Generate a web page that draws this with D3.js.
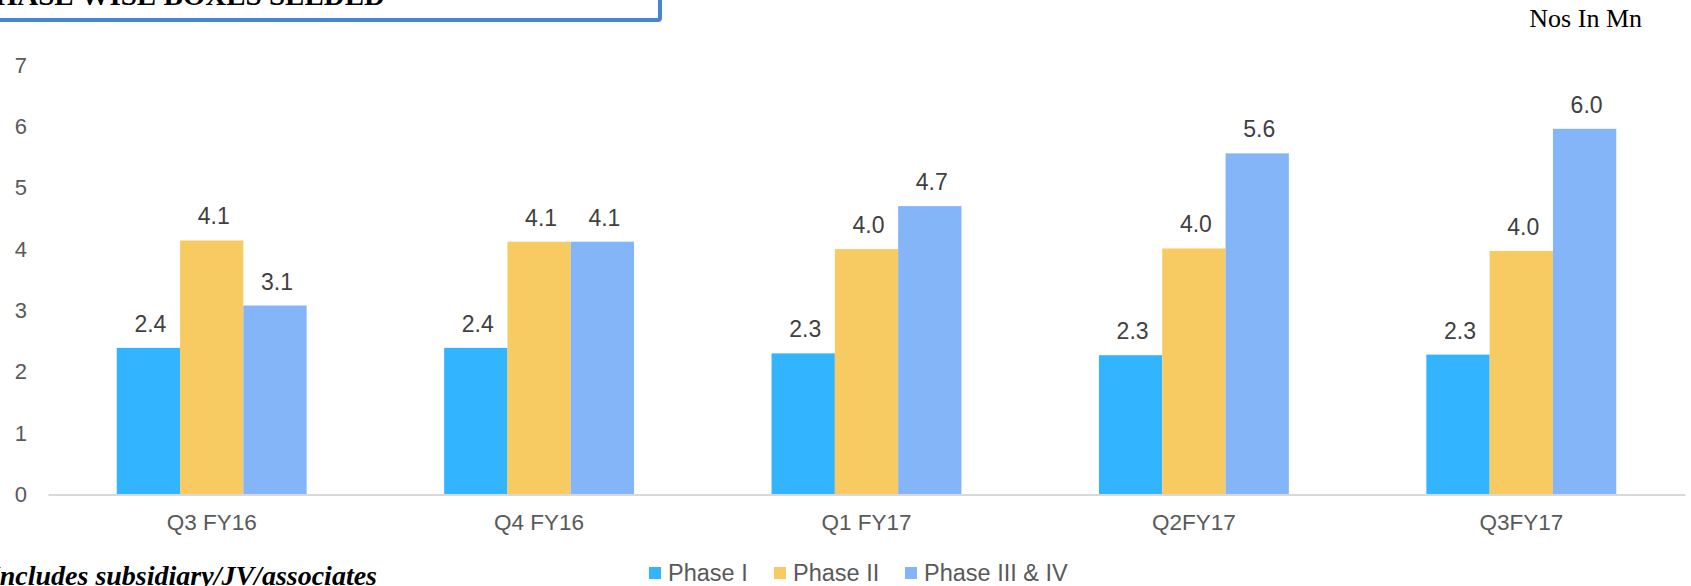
<!DOCTYPE html>
<html>
<head>
<meta charset="utf-8">
<script src="https://cdn.jsdelivr.net/npm/d3@7"></script>
<style>
  body { margin: 0; background: #fff; }
  svg { display: block; }
</style>
</head>
<body>
<div id="chart"></div>
<script>
// values
var quarters = ["Q3 FY16", "Q4 FY16", "Q1 FY17", "Q2FY17", "Q3FY17"];
var series = ["Phase I", "Phase II", "Phase III & IV"];
var phase1 = [2.39, 2.39, 2.30, 2.27, 2.28];
var phase2 = [4.14, 4.12, 4.00, 4.01, 3.97];
var phase3 = [3.08, 4.12, 4.70, 5.56, 5.96];
var colors = ["#32b4fe", "#f8ca62", "#84b5f8"];
var yTicks = [0, 1, 2, 3, 4, 5, 6, 7];

var width = 1691, height = 586;

var svg = d3.select("#chart")
    .append("svg")
    .attr("width", width)
    .attr("height", height);

// title box, cut off at the top of the page
svg.append("rect")
    .attr("x", -10)
    .attr("y", -24)
    .attr("width", 670)
    .attr("height", 44)
    .attr("rx", 2)
    .style("fill", "none")
    .style("stroke", "#4784d6")
    .style("stroke-width", 4);

svg.append("text")
    .attr("x", 385)
    .attr("y", 5)
    .attr("text-anchor", "end")
    .style("font-family", "'Liberation Serif', 'Times New Roman', serif")
    .style("font-weight", "bold")
    .style("font-size", "29px")
    .text("PHASE WISE BOXES SEEDED");

svg.append("text")
    .attr("x", 1642)
    .attr("y", 27)
    .attr("text-anchor", "end")
    .style("font-family", "'Liberation Serif', 'Times New Roman', serif")
    .style("font-size", "26px")
    .text("Nos In Mn");

svg.append("text")
    .attr("x", 377)
    .attr("y", 585)
    .attr("text-anchor", "end")
    .style("font-family", "'Liberation Serif', 'Times New Roman', serif")
    .style("font-weight", "bold")
    .style("font-style", "italic")
    .style("font-size", "28px")
    .text("*Includes subsidiary/JV/associates");

var x0 = d3.scaleBand()
    .domain(quarters)
    .range([48, 1685])
    .paddingInner(0.42)
    .paddingOuter(0.21);

var x1 = d3.scaleBand()
    .domain(series)
    .range([0, x0.bandwidth()]);

var y = d3.scaleLinear()
    .domain([0, 7])
    .range([494.5, 65]);

var rows = quarters.map(function(q, i) {
    return { q: q, vals: [phase1[i], phase2[i], phase3[i]] };
});

// y axis labels only
var yAxis = svg.append("g")
    .attr("transform", "translate(27,0)")
    .call(d3.axisLeft(y).tickValues(yTicks).tickFormat(d3.format("d")).tickSize(0).tickPadding(0));
yAxis.select(".domain").remove();
yAxis.selectAll("text")
    .style("font-family", "'Liberation Sans', Arial, sans-serif")
    .style("font-size", "22px")
    .style("fill", "#595959");

var group = svg.selectAll(".group")
    .data(rows)
    .enter().append("g")
    .attr("class", "group")
    .attr("transform", function(d) { return "translate(" + x0(d.q) + ",0)"; });

group.selectAll("rect")
    .data(function(d) { return d.vals.map(function(v, k) { return { s: series[k], v: v, k: k }; }); })
    .enter().append("rect")
    .attr("x", function(d) { return x1(d.s); })
    .attr("y", function(d) { return y(d.v); })
    .attr("width", x1.bandwidth())
    .attr("height", function(d) { return y(0) - y(d.v); })
    .style("fill", function(d) { return colors[d.k]; });

group.selectAll(".lbl")
    .data(function(d) { return d.vals.map(function(v, k) { return { s: series[k], v: v }; }); })
    .enter().append("text")
    .attr("class", "lbl")
    .attr("x", function(d) { return x1(d.s) + x1.bandwidth() / 2 + 2; })
    .attr("y", function(d) { return y(d.v) - 16; })
    .attr("text-anchor", "middle")
    .style("font-family", "'Liberation Sans', Arial, sans-serif")
    .style("font-size", "23px")
    .style("fill", "#404040")
    .text(function(d) { return d3.format(".1f")(d.v); });

// x axis
var xAxis = svg.append("g")
    .attr("transform", "translate(0," + y(0) + ")")
    .call(d3.axisBottom(x0).tickSize(0).tickPadding(20));
xAxis.select(".domain")
    .style("stroke", "#d9d9d9")
    .style("stroke-width", 2);
xAxis.selectAll("text")
    .style("font-family", "'Liberation Sans', Arial, sans-serif")
    .style("font-size", "22.5px")
    .style("fill", "#595959");

// legend
var legendX = [649, 774, 905];
var legend = svg.selectAll(".legend")
    .data(series)
    .enter().append("g")
    .attr("class", "legend")
    .attr("transform", function(d, i) { return "translate(" + legendX[i] + ",567)"; });

legend.append("rect")
    .attr("width", 12)
    .attr("height", 12)
    .style("fill", function(d, i) { return colors[i]; });

legend.append("text")
    .attr("x", 19)
    .attr("y", 14)
    .style("font-family", "'Liberation Sans', Arial, sans-serif")
    .style("font-size", "23.5px")
    .style("fill", "#595959")
    .text(function(d) { return d; });
</script>
</body>
</html>
